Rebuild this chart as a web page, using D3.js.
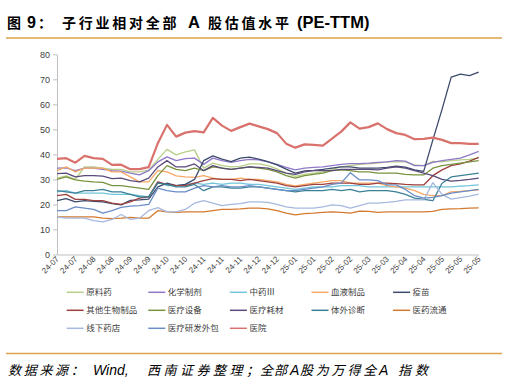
<!DOCTYPE html>
<html><head><meta charset="utf-8">
<script src="https://cdn.jsdelivr.net/npm/d3@7"></script>
<style>
body{margin:0;background:#fff;}
svg{display:block;}
</style></head>
<body><svg id="c" width="507" height="384"></svg>
<script>
const tickLabels = ["24-07","24-07","24-08","24-08","24-09","24-09","24-10","24-10","24-11","24-11","24-11","24-12","24-12","25-01","25-01","25-02","25-02","25-03","25-03","25-04","25-04","25-05","25-05","25-05"];
const seriesNames = ["原料药","化学制剂","中药Ⅲ","血液制品","疫苗","其他生物制品","医疗设备","医疗耗材","体外诊断","医药流通","线下药店","医疗研发外包","医院"];
const seriesColors = ["#b7cf86","#8f78c8","#70c5da","#f7a866","#3d4b6c","#9e403d","#78933d","#5b4a7b","#3a8096","#d47a2e","#a6b8df","#6a8dc6","#d9716c"];

const yuanliaoyao = [30.5,31.4,30.0,35.0,35.0,34.5,34.0,34.0,33.0,33.0,33.7, 38.0,42.0,39.8,41.0,41.8,34.5,36.5,35.5,35.0,35.2, 36.2,36.2,35.5,34.2,32.5,31.2,32.0,32.5,33.0,34.0, 35.0,35.5,36.0,36.2,36.5,37.0,37.0,37.0,35.8,35.5, 37.2,37.0,37.5,37.8,38.0,38.5];
const huaxuezhiji = [34.5,34.6,33.5,34.5,34.5,34.0,33.5,33.3,32.5,31.8,33.5, 37.0,39.0,37.5,38.3,38.5,36.0,38.5,37.5,36.8,37.5, 38.0,37.8,37.0,36.0,34.8,33.8,34.5,34.8,35.0,35.5, 36.0,36.3,36.3,36.5,36.8,37.0,37.5,37.3,35.5,35.5, 36.8,37.5,38.0,38.5,39.8,41.2];
const zhongyao = [25.0,25.5,24.5,24.5,24.5,24.5,24.0,24.0,24.0,23.5,23.0, 29.0,27.5,27.5,28.0,28.5,28.0,28.5,28.0,28.5,28.5, 28.0,28.0,27.5,27.0,26.5,26.0,26.5,27.0,27.0,27.0, 27.5,27.5,27.5,27.0,27.0,27.0,27.0,27.0,27.0,27.0, 27.0,27.0,27.0,27.3,27.5,27.8];
const xueye = [33.5,35.0,33.0,34.5,34.5,34.5,33.0,33.0,31.0,29.0,29.0, 33.5,33.0,31.4,31.0,30.8,31.5,30.5,30.0,30.0,30.5, 30.0,30.0,29.5,29.0,28.0,27.4,28.0,28.5,29.0,29.5, 29.5,28.5,28.5,28.5,28.5,27.5,27.0,26.5,25.5,24.0, 23.5,23.5,25.0,25.2,25.5,25.8];
const yimiao = [21.5,22.3,21.0,21.5,21.2,21.0,20.3,19.8,21.6,21.8,22.1, 27.0,28.5,27.5,28.0,30.0,37.5,39.4,38.1,37.1,38.5, 38.9,38.1,37.1,35.8,34.1,32.5,33.4,33.6,34.0,34.5, 35.0,35.0,34.5,34.5,34.5,34.8,35.3,34.9,33.8,33.2, 45.8,58.0,70.9,72.1,71.5,72.9];
const qitashengwu = [23.5,24.0,22.0,22.0,21.5,21.5,20.5,20.0,21.0,22.5,23.0, 29.0,28.0,27.5,27.5,28.5,29.5,30.3,30.0,30.0,29.5, 30.0,29.5,29.0,28.5,27.5,27.0,27.5,28.0,28.0,28.5, 28.5,28.5,28.0,28.0,28.5,28.5,28.3,28.0,27.8,27.8, 31.5,33.8,35.5,36.2,37.3,38.8];
const yiliaoshebei = [30.0,31.0,29.8,29.3,29.0,28.8,27.5,27.5,27.0,26.5,26.0, 31.5,35.5,34.0,33.5,34.5,33.5,35.0,34.5,34.0,34.5, 35.0,34.5,34.0,33.0,31.5,30.5,31.5,32.0,32.5,33.5, 33.8,33.5,33.0,33.0,32.5,32.5,32.5,32.0,31.8,31.8, 34.5,35.5,36.0,36.5,37.0,37.5];
const yiliaohaocai = [32.3,32.5,31.0,31.5,31.5,31.3,30.3,30.5,29.5,29.0,30.5, 35.0,37.5,35.0,35.0,36.2,33.5,35.5,34.5,34.0,34.5, 35.0,34.8,34.5,33.5,32.5,32.0,33.0,33.5,33.5,33.5, 34.0,34.0,34.0,34.0,33.8,34.5,35.0,34.5,33.5,32.5, 31.5,30.0,29.3,29.6,30.0,30.5];
const tiwaizhenduan = [25.5,25.0,24.5,25.5,25.5,26.0,25.0,25.0,24.0,23.0,23.0, 28.5,28.0,27.0,27.0,28.0,25.5,27.0,27.0,26.5,26.5, 27.0,27.0,26.5,26.0,25.5,25.0,25.5,25.5,25.5,26.0, 25.5,26.0,25.0,25.5,25.5,25.5,25.0,24.0,22.5,22.0, 21.5,28.5,31.0,31.5,32.0,32.5];
const yiyaoliutong = [15.0,15.0,15.0,15.0,15.0,14.5,14.3,14.5,14.8,14.5,14.5, 17.5,17.0,16.8,17.0,17.0,17.0,17.5,18.0,18.0,18.2, 18.5,18.5,18.2,17.5,16.5,15.8,16.3,16.5,16.8,17.0, 16.8,16.5,17.3,17.2,16.8,17.0,17.0,17.0,17.0,17.0, 17.2,18.0,18.2,18.3,18.5,18.6];
const xianxiayaodian = [15.0,14.5,14.5,14.5,13.5,13.0,14.0,16.0,14.0,14.5,17.5, 18.7,17.0,17.0,18.0,20.5,21.5,20.5,19.5,20.0,20.3, 21.0,21.0,20.8,20.0,19.0,18.5,18.5,18.5,19.0,19.8, 19.5,18.5,19.5,20.5,20.5,20.8,21.2,21.8,21.8,21.8, 28.7,24.0,22.1,22.7,23.3,24.1];
const yanfawaibao = [17.5,17.5,19.0,18.5,18.0,16.5,17.5,18.8,19.3,19.5,20.0, 26.5,25.5,25.0,25.0,26.5,27.5,27.0,27.5,27.0,27.0, 27.5,27.0,26.5,26.0,25.5,25.5,26.0,26.5,27.0,28.0, 28.5,32.7,29.8,29.8,29.5,27.8,27.8,26.0,23.5,22.5, 22.8,23.5,24.5,25.0,25.5,26.0];
const yiyuan = [38.2,38.5,36.7,39.4,38.5,38.2,35.8,35.9,34.1,34.1,34.9, 44.5,51.8,47.1,48.7,49.3,48.8,54.6,51.5,49.4,50.9, 52.3,51.2,50.1,48.5,44.3,42.7,44.0,43.8,43.5,46.3, 49.1,52.8,50.3,50.9,52.4,50.1,48.5,47.8,46.1,46.2, 46.7,45.8,44.5,44.5,44.2,44.2];
const yTicks = [0,10,20,30,40,50,60,70,80];

const seriesValues = [yuanliaoyao,huaxuezhiji,zhongyao,xueye,yimiao,qitashengwu,yiliaoshebei,yiliaohaocai,tiwaizhenduan,yiyaoliutong,xianxiayaodian,yanfawaibao,yiyuan];
const series = seriesNames.map((n,i)=>({name:n,color:seriesColors[i],values:seriesValues[i]}));

const svg = d3.select("#c");
const FONT = "'Liberation Sans', Arial, 'Noto Sans CJK SC', sans-serif";
const CJK = "'Noto Sans CJK SC', 'Liberation Sans', sans-serif";

// Title
const title = svg.append("text").attr("y",28).attr("font-weight","bold").attr("fill","#000");
const tparts = [["图",CJK,14,0,7],["9",FONT,16,0,27],["：",CJK,14,0,38],["子行业相对全部",CJK,14,2.75,62],["A",FONT,16.5,0,188],["股估值水平",CJK,14,2.75,208],["(PE-TTM)",FONT,16.5,0,297]];
tparts.forEach(p=>title.append("tspan").attr("x",p[4]).text(p[0]).attr("font-family",p[1]).attr("font-size",p[2]).attr("letter-spacing",p[3]));
svg.append("line").attr("x1",6).attr("x2",502).attr("y1",38).attr("y2",38).attr("stroke","#dca24e").attr("stroke-width",1.5);

// Scales
const n = yiyuan.length;
const x = d3.scalePoint().domain(d3.range(n)).range([57,478.7]);
const y = d3.scaleLinear().domain([0,80]).range([254.5,54.3]);

// Axes
const yAxis = svg.append("g").attr("transform","translate(57,0)")
  .call(d3.axisLeft(y).tickValues(yTicks).tickSizeInner(4).tickSizeOuter(0).tickPadding(3));
yAxis.select(".domain").attr("stroke","#bfbfbf");
yAxis.selectAll(".tick line").attr("stroke","#bfbfbf");
yAxis.selectAll("text").attr("font-family",FONT).attr("font-size",9).attr("fill","#404040");

const tickIdx = d3.range(0,n,2);
const xAxis = svg.append("g").attr("transform","translate(0,254.5)")
  .call(d3.axisBottom(x).tickValues(tickIdx).tickSize(0).tickFormat((d,i)=>tickLabels[i]));
xAxis.select(".domain").attr("stroke","#bfbfbf");
xAxis.selectAll("text").attr("font-family",FONT).attr("font-size",8).attr("fill","#404040")
  .attr("text-anchor","end").attr("dy",null).attr("y",0)
  .attr("transform","translate(2,5) rotate(-45)");

// Lines
const line = d3.line().x((d,i)=>x(i)).y(d=>y(d));
svg.append("g").selectAll("path").data(series).join("path")
  .attr("d",d=>line(d.values)).attr("fill","none")
  .attr("stroke",d=>d.color)
  .attr("stroke-width",d=>d.name==="医院"?2.2:1.3)
  .attr("stroke-linejoin","round");

// Legend
const lg = svg.append("g");
series.forEach((s,i)=>{
  const col = i%5, row = Math.floor(i/5);
  const gx = 66.7 + col*81.6, gy = 292.3 + row*18;
  lg.append("line").attr("x1",gx).attr("x2",gx+17).attr("y1",gy).attr("y2",gy).attr("stroke",s.color).attr("stroke-width",1.5);
  lg.append("text").attr("x",gx+19.5).attr("y",gy+3).attr("font-family",CJK).attr("font-size",8.5).attr("fill","#404040").text(s.name);
});

// Footer
svg.append("line").attr("x1",6).attr("x2",502).attr("y1",353.5).attr("y2",353.5).attr("stroke","#dca24e").attr("stroke-width",1.5);
const foot = svg.append("text").attr("y",375).attr("font-style","italic").attr("fill","#000");
const fparts = [["数据来源：",CJK,13,2.7,8],["Wind,",FONT,14,0,93],["西南证券整理",CJK,13,3.5,147],["；",CJK,13,0,246],["全",CJK,13,0,260],["部",CJK,13,0,274],["A",FONT,14,0,290],["股为万得全",CJK,13,2.8,300],["A",FONT,14,0,379],["指数",CJK,13,4,398]];
fparts.forEach(p=>foot.append("tspan").attr("x",p[4]).text(p[0]).attr("font-family",p[1]).attr("font-size",p[2]).attr("letter-spacing",p[3]));
</script></body></html>
